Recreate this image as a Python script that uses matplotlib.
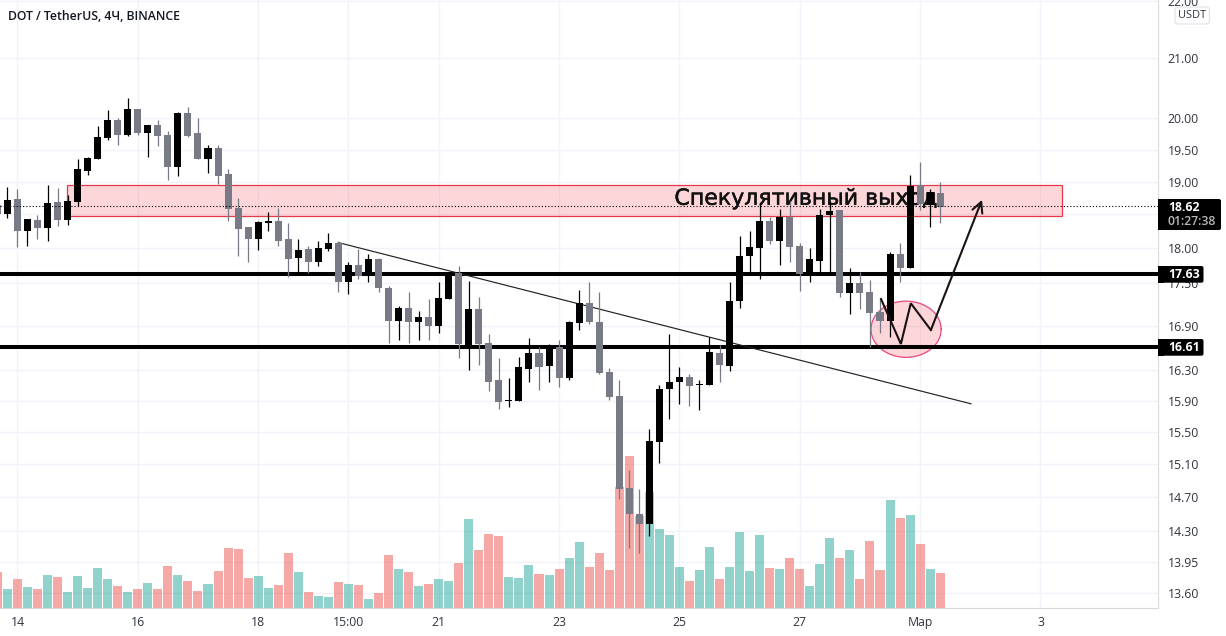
import numpy as np
import matplotlib
matplotlib.use("Agg")
import matplotlib.pyplot as plt
import matplotlib.patheffects as pe
from matplotlib.patches import FancyBboxPatch, Rectangle
from matplotlib.transforms import IdentityTransform

plt.rcParams['font.family'] = ['Open Sans', 'DejaVu Sans']

# index -1 is the partly visible first candle
highs = [19.02,
 18.91,18.88,18.43,18.49,18.94,18.90,18.80,19.35,19.39,19.87,
 20.13,20.00,20.33,20.16,19.90,19.98,19.79,20.11,20.18,20.00,
 19.57,19.58,19.20,18.74,18.31,18.40,18.53,18.59,18.37,18.13,
 18.03,18.11,18.22,18.10,17.79,17.98,17.91,17.85,17.46,17.17,
 17.37,17.10,17.27,17.51,17.65,17.74,17.53,17.30,16.78,16.46,
 16.20,16.48,16.73,16.61,16.65,16.70,16.97,17.39,17.51,17.37,
 16.33,16.17,15.03,14.80,15.54,16.10,16.79,16.34,16.25,16.17,
 16.75,16.63,17.51,18.17,18.25,18.68,18.46,18.58,18.70,18.07,
 18.00,18.58,18.70,18.56,17.71,17.66,17.54,17.27,17.94,18.08,
 19.10,19.30,18.88,19.00]
body_tops = [18.64,
 18.71,18.73,18.43,18.41,18.67,18.68,18.70,19.19,19.36,19.70,
 19.98,19.98,20.15,20.16,19.90,19.90,19.74,20.08,20.08,19.76,
 19.52,19.52,19.11,18.59,18.31,18.38,18.40,18.40,18.13,17.97,
 17.98,18.00,18.08,18.08,17.76,17.76,17.84,17.84,17.43,17.14,
 17.15,17.02,17.02,17.28,17.65,17.64,17.13,17.13,16.66,16.17,
 15.91,16.34,16.53,16.53,16.59,16.61,16.95,17.22,17.22,16.95,
 16.27,15.96,14.81,14.50,15.39,16.05,16.15,16.21,16.21,16.12,
 16.54,16.53,17.24,17.89,18.01,18.40,18.40,18.46,18.46,18.03,
 17.84,18.49,18.55,18.56,17.49,17.49,17.37,17.09,17.91,17.91,
 18.93,18.94,18.84,18.82]
body_bottoms = [18.50,
 18.50,18.25,18.25,18.29,18.29,18.41,18.41,18.68,19.17,19.35,
 19.68,19.74,19.74,19.77,19.77,19.72,19.22,19.22,19.72,19.35,
 19.35,19.08,18.58,18.28,18.13,18.14,18.37,18.10,17.84,17.85,
 17.79,17.79,17.98,17.51,17.51,17.59,17.59,17.42,16.96,16.96,
 16.95,16.95,16.89,16.89,17.27,16.65,16.63,16.65,16.15,15.88,
 15.89,15.89,16.31,16.34,16.35,16.19,16.19,16.93,16.95,16.26,
 15.95,14.80,14.50,14.38,14.38,15.37,16.05,16.15,16.09,16.10,
 16.10,16.37,16.35,17.24,17.88,18.00,18.11,18.11,18.01,17.62,
 17.62,17.81,18.49,17.35,17.35,17.35,17.07,16.96,16.96,17.71,
 17.71,18.65,18.64,18.61]
lows = [18.40,
 18.44,18.01,18.03,18.14,18.11,18.32,18.34,18.63,19.10,19.35,
 19.65,19.57,19.72,19.74,19.39,19.55,19.03,19.08,19.70,19.35,
 19.13,18.96,18.40,17.88,17.79,17.97,18.25,18.03,17.58,17.65,
 17.64,17.74,17.95,17.37,17.34,17.56,17.51,17.37,16.66,16.70,
 16.67,16.71,16.70,16.80,17.27,16.46,16.30,16.37,16.02,15.79,
 15.82,15.89,16.15,16.04,16.14,16.08,16.17,16.84,16.92,16.25,
 15.91,14.68,14.11,14.05,14.24,15.11,15.66,15.86,15.83,15.78,
 16.10,16.15,16.29,17.15,17.62,17.55,18.06,17.76,17.79,17.38,
 17.51,17.65,17.65,17.30,17.06,17.13,16.61,16.80,16.74,17.51,
 17.71,18.56,18.31,18.37]
volumes = [36,
 19,29,21,19,33,31,16,32,20,40,29,22,16,19,25,19,42,33,27,17,
 24,37,60,59,30,32,20,23,55,36,16,12,11,26,24,23,9,15,53,39,
 36,22,24,29,27,45,89,58,74,72,31,30,43,34,33,39,50,66,41,55,
 38,121,152,92,116,79,73,41,27,38,61,29,41,76,37,73,40,39,50,39,
 22,44,70,50,58,29,67,38,108,90,93,64,39,35]

up_flags = [
 0,
 1,0,1,0,1,0,1,1,1,1,1,0,1,0,1,0,0,1,0,0,
 1,0,0,0,0,1,1,0,0,1,0,1,1,0,1,0,1,0,0,1,
 0,1,0,1,1,0,1,0,0,0,1,1,1,0,1,0,1,1,0,0,
 0,0,0,0,1,1,1,1,0,1,1,0,1,1,1,1,0,1,0,0,
 1,1,1,0,1,0,0,0,1,0,1,0,1,0]

price_ticks = [22.0,21.0,20.0,19.5,19.0,18.5,18.0,17.5,16.9,16.3,15.9,15.5,15.1,14.7,14.3,13.95,13.6]
date_ticks = [1,13,25,34,43,55,67,79,91,103]
date_labels = ["14","16","18","15:00","21","23","25","27","Мар","3"]

level_prices = [17.63,16.61]
last_price = 18.62
zone_start, zone_end, zone_low, zone_high = 5.97,105.1,18.48,18.94
trend_x, trend_y = [33.0,96.07],[18.08,15.86]
path_x, path_y = [87.1,89.08,90.07,92.07],[17.27,16.65,17.21,16.84]
arrow_tip = (97.17,18.72)
ellipse_x, ellipse_rx, ellipse_low, ellipse_high = 89.6,3.5,16.47,17.24
note_x, note_price = 66.5,18.74
TITLE = "DOT / TetherUS, 4Ч, BINANCE"
NOTE = "Спекулятивный выход"

W,H = 1226,636
PLOT_R, PLOT_B = 1158,608
INK = "#131722"
GRID = "#f0f3fa"
BLACK, GRAY = "#000000","#787b86"
TEAL, RED = "#26a69a","#ef5350"

idx = np.arange(-1,len(highs)-1)
up = np.array(up_flags,dtype=bool)

fig = plt.figure(figsize=(W/100,H/100),dpi=100,facecolor="white")
rect = [0,(H-PLOT_B)/H,PLOT_R/W,PLOT_B/H]
xlim = (-7.4/10.03,(PLOT_R-7.4)/10.03)
ylim = (13.435,22.02)

base = fig.add_axes(rect,zorder=0)
vol = fig.add_axes(rect,zorder=1); vol.patch.set_alpha(0)
ax = fig.add_axes(rect,zorder=2); ax.patch.set_alpha(0)

for a in (base,ax):
    a.set_yscale("log")
    a.set_ylim(*ylim)
for a in (base,vol,ax):
    a.set_xlim(*xlim)
    for s in a.spines.values():
        s.set_visible(False)
for a in (vol,ax):
    a.set_xticks([]); a.set_yticks([]); a.minorticks_off()
    a.set_yticks([],minor=True)

base.spines['right'].set_visible(True); base.spines['right'].set_color("#d8dae0")
base.spines['bottom'].set_visible(True); base.spines['bottom'].set_color("#d8dae0")
base.yaxis.tick_right()
base.set_yticks(price_ticks)
base.set_yticklabels([f"{v:.2f}" for v in price_ticks],fontsize=8.8,color="#30343e")
base.set_yticks([],minor=True)
base.set_xticks(date_ticks)
base.set_xticklabels(date_labels,fontsize=8.8,color="#30343e")
base.tick_params(axis='y',length=0,pad=7)
base.tick_params(axis='x',length=0,pad=6)
base.grid(True,color=GRID,lw=1.0)
base.set_axisbelow(True)

vol.set_ylim(0,PLOT_B)
vol.bar(idx,volumes,width=0.9,color=[TEAL if u else RED for u in up],alpha=0.5,linewidth=0)

ax.fill_between([zone_start,zone_end],zone_low,zone_high,facecolor="#f23645",alpha=0.2,lw=0,zorder=1)
ax.add_patch(Rectangle((zone_start,zone_low),zone_end-zone_start,zone_high-zone_low,fill=False,
                       edgecolor="#e5394a",lw=0.9,zorder=1.2))
ax.text(note_x,note_price,NOTE,fontsize=15.9,color="#111111",family="DejaVu Sans",va="center",ha="left",
        zorder=1.5,path_effects=[pe.withStroke(linewidth=0.35,foreground="#111111")])

t = np.linspace(0,2*np.pi,200)
log_c = (np.log(ellipse_low)+np.log(ellipse_high))/2
log_r = (np.log(ellipse_high)-np.log(ellipse_low))/2
ex = ellipse_x+ellipse_rx*np.cos(t)
ey = np.exp(log_c+log_r*np.sin(t))
ax.fill(ex,ey,facecolor="#f23645",alpha=0.2,lw=0,zorder=1)
ax.plot(ex,ey,color="#e91e63",lw=0.9,alpha=0.8,zorder=1.2)

for p in level_prices:
    ax.axhline(p,color="black",lw=2.9,zorder=2)
ax.plot(trend_x,trend_y,color="#222222",lw=0.85,zorder=2.2)

colors = [BLACK if u else GRAY for u in up]
ax.vlines(idx,lows,highs,colors=colors,lw=0.9,zorder=3)
ax.bar(idx,np.array(body_tops)-np.array(body_bottoms),bottom=body_bottoms,width=0.7,
       color=colors,linewidth=0,zorder=3.1)

ax.axhline(last_price,color="black",lw=0.8,ls=(0,(1,1.9)),zorder=3.5)

ax.plot(path_x,path_y,color="#1a1114",lw=1.5,zorder=4,solid_joinstyle="miter")
ax.annotate("",xy=arrow_tip,xytext=(path_x[-1],path_y[-1]),zorder=4,
            arrowprops=dict(arrowstyle="->,head_length=0.75,head_width=0.38",color="#1a1114",lw=1.5,
                            shrinkA=0,shrinkB=0))

fig.text(8/W,1-16/H,TITLE,fontsize=8.8,color=INK,fontweight="semibold",va="center",ha="left",zorder=5)

def label(y0,y1,x1,lines):
    fig.add_artist(FancyBboxPatch((PLOT_R,H-y1),x1-PLOT_R,y1-y0,boxstyle="round,pad=0,rounding_size=2",
                   transform=IdentityTransform(),fc="black",ec="none",zorder=3))
    fig.add_artist(Rectangle((PLOT_R,H-y1),6,y1-y0,transform=IdentityTransform(),fc="black",ec="none",zorder=3))
    for yc,s,c,w in lines:
        fig.text(1168/W,1-yc/H,s,fontsize=8.8,color=c,fontweight=w,va="center",ha="left",zorder=4)

label(199,230,1221,[(207.5,f"{last_price:.2f}","white","bold"),(221.5,"01:27:38","#b8b8b8","semibold")])
label(266,282.7,1203.5,[(274.5,f"{level_prices[0]:.2f}","white","bold")])
label(339,355.7,1203.5,[(347.5,f"{level_prices[1]:.2f}","white","bold")])

fig.add_artist(FancyBboxPatch((1175,H-24),34.5,17,boxstyle="round,pad=0,rounding_size=3",
               transform=IdentityTransform(),fc="white",ec="#dfe1e8",lw=0.8,zorder=3))
fig.text(1192/W,1-15.5/H,"USDT",fontsize=7.9,color="#30343e",va="center",ha="center",zorder=4)

fig.savefig("out.png",dpi=100)
